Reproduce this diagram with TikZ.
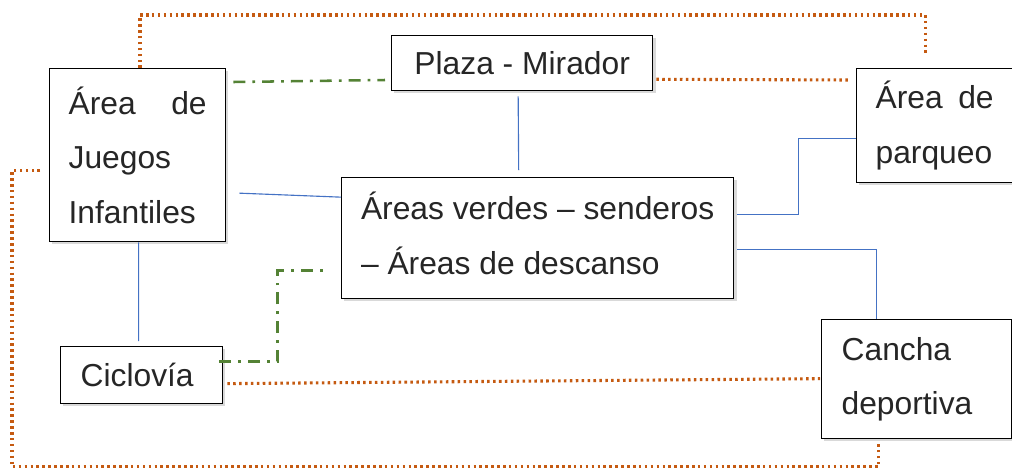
\documentclass[tikz,border=0pt]{standalone}
\usepackage{fontspec}
\setmainfont{Liberation Sans}
\usepackage{xcolor}
\usetikzlibrary{calc,positioning,shadows}
\definecolor{naranja}{HTML}{C55A11}
\definecolor{verde}{HTML}{548235}
\definecolor{azul}{HTML}{4472C4}
\tikzset{%
	caja/.style     = {draw, rectangle, fill=white, line width=0.9pt, anchor=north west, inner xsep=0.475cm, align=left,
	                   font=\fontsize{22.6}{38.8}\selectfont, text=black!85,
	                   drop shadow={opacity=0.3, shadow xshift=2pt, shadow yshift=-2pt}},
	punteada/.style = {naranja, line width=2.2pt, dash pattern=on 1.8pt off 2.4pt}, % orange dots
	rayapunto/.style= {verde, line width=1.8pt, dash pattern=on 8.5pt off 5pt on 2pt off 5pt},
	enlace/.style   = {azul, line width=0.8pt},
}
\begin{document}
\begin{tikzpicture}[x=0.025cm, y=-0.025cm]
	\useasboundingbox (0,0) rectangle (1012,468);
	\node[caja, minimum width=4.4cm, minimum height=4.325cm, text width=3.45cm] (juegos) at (49,68) {Área\hfill de\\Juegos\\Infantiles};
	\node[caja, minimum width=6.525cm, minimum height=1.375cm, align=center] (plaza) at (391,35) {Plaza - Mirador};
	\node[caja, minimum width=3.9cm, minimum height=2.85cm, text width=2.95cm] (parqueo) at (856,68) {Área\hfill de\\parqueo};
	\node[caja, minimum width=9.8cm, minimum height=3.025cm, inner xsep=0.4cm, text depth=0.25cm] (areas) at (341,177) {Áreas verdes -- senderos\\-- Áreas de descanso};
	\node[caja, minimum width=4.05cm, minimum height=1.425cm, text width=3.05cm, inner xsep=0.5cm] (ciclo) at (60,346) {Ciclovía};
	\node[caja, minimum width=4.75cm, minimum height=2.975cm, text width=3.75cm, inner xsep=0.5cm] (cancha) at (821,319) {Cancha\\deportiva};
	% azules
	\draw[enlace] ($(plaza.south)+(-4,5)$) -- ($(areas.north)+(-19,-7)$);
	\draw[enlace] ($(juegos.east)+(13,38)$) -- ($(areas.west)+(0,-41)$);
	\draw[enlace] ($(areas.east)+(3,-24)$) -- ++(61,0) |- ($(parqueo.west)+(0,13)$);
	\draw[enlace] ($(areas.east)+(3,11)$) -| ($(cancha.north)+(-40,0)$);
	\draw[enlace] ($(juegos.south)+(1,0)$) -- ($(ciclo.north)+(-3,-5)$);
	% verdes
	\draw[rayapunto] ($(juegos.north east)+(7,14)$) -- ($(plaza.north west)+(-6,45)$);
	\draw[rayapunto] ($(ciclo.east)+(-4,-13.5)$) -- ++(58,0) |- ($(areas.west)+(-14,32.5)$);
	% naranjas
	\draw[punteada] ($(juegos.north west)+(91,0)$) -- ++(0,-53) -| ($(parqueo.north)+(-9,-13)$);
	\draw[punteada] ($(plaza.south east)+(3,-12)$) -- ($(parqueo.north west)+(-6,12)$);
	\draw[punteada] ($(ciclo.east)+(4,8.5)$) -- ($(cancha.west)+(-1,-0.5)$);
	\draw[punteada] ($(juegos.west)+(-9,15.5)$) -- ++(-28,0) -- ++(0,296) -| ($(cancha.south)+(-38,2)$);
\end{tikzpicture}
\end{document}
